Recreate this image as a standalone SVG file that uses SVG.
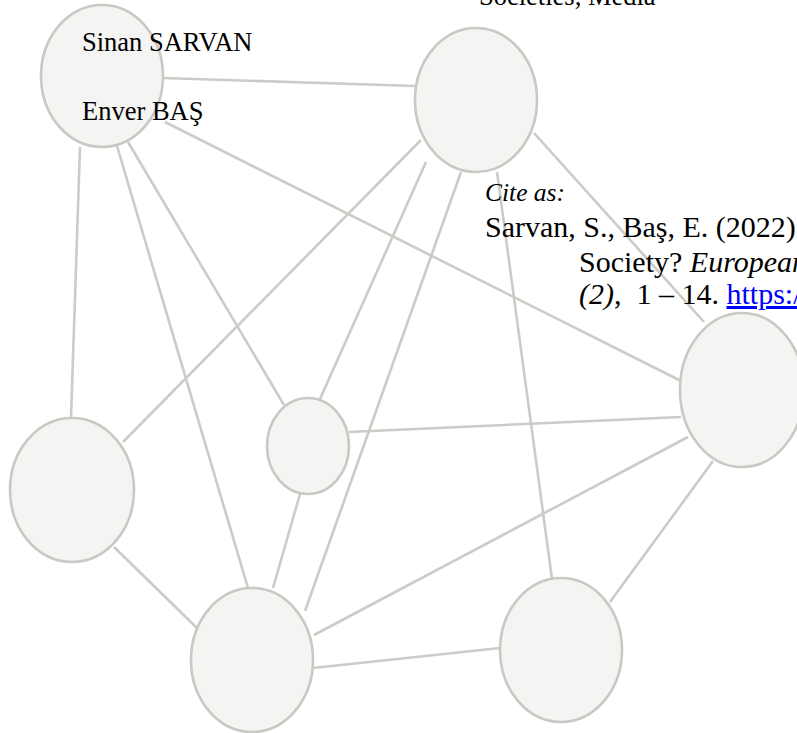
<svg xmlns="http://www.w3.org/2000/svg" width="797" height="733" viewBox="0 0 797 733">
<style>
.edge{stroke:#cdcbc6;stroke-width:2.6;fill:none;stroke-linecap:butt}
.node{fill:#f4f4f2;stroke:#c9c8c3;stroke-width:2.6}
.t{font-family:"Liberation Serif","Times New Roman",serif;fill:#000}
.it{font-style:italic}
.lnk{fill:#0000ff;text-decoration:underline}
</style>
<rect width="797" height="733" fill="#ffffff"/>
<g id="connectors">
<line class="edge" x1="163" y1="78" x2="416" y2="86"/>
<line class="edge" x1="165" y1="122" x2="681" y2="381"/>
<line class="edge" x1="80" y1="147" x2="71" y2="418"/>
<line class="edge" x1="117" y1="146" x2="248" y2="588"/>
<line class="edge" x1="128" y1="142" x2="284" y2="405"/>
<line class="edge" x1="421" y1="140" x2="123" y2="442"/>
<line class="edge" x1="426" y1="162" x2="320" y2="399"/>
<line class="edge" x1="461" y1="172" x2="305" y2="611"/>
<line class="edge" x1="497" y1="172" x2="552" y2="579"/>
<line class="edge" x1="534" y1="133" x2="704" y2="322"/>
<line class="edge" x1="349" y1="432" x2="681" y2="417"/>
<line class="edge" x1="114" y1="547" x2="198" y2="629"/>
<line class="edge" x1="300" y1="494" x2="273" y2="588"/>
<line class="edge" x1="314" y1="635" x2="688" y2="437"/>
<line class="edge" x1="313" y1="668" x2="500" y2="648"/>
<line class="edge" x1="610" y1="602" x2="713" y2="461"/>
</g>
<g id="node-a">
<ellipse class="node" cx="102" cy="76" rx="61" ry="71"/>
<text class="t" x="82" y="51" font-size="26.5">Sinan SARVAN</text>
<text class="t" x="82" y="120" font-size="26.5">Enver BAŞ</text>
</g>
<g id="node-b"><ellipse class="node" cx="476" cy="100" rx="61" ry="72"/></g>
<g id="node-c"><ellipse class="node" cx="742" cy="390" rx="62" ry="77"/></g>
<g id="node-d"><ellipse class="node" cx="72" cy="490" rx="62" ry="72"/></g>
<g id="node-e"><ellipse class="node" cx="308" cy="446" rx="41" ry="48"/></g>
<g id="node-f"><ellipse class="node" cx="252" cy="660" rx="61" ry="72"/></g>
<g id="node-g"><ellipse class="node" cx="561" cy="650" rx="61" ry="72"/></g>
<g id="texts">
<text class="t" x="479" y="4.5" font-size="26.5">Societies, Media</text>
<text class="t it" x="485" y="201" font-size="25.5">Cite as:</text>
<text class="t" x="485" y="237" font-size="30">Sarvan, S., Baş, E. (2022)</text>
<text class="t" x="579" y="272" font-size="30">Society? <tspan class="it">European</tspan></text>
<text class="t" x="579" y="304" font-size="30" xml:space="preserve"><tspan class="it">(2)</tspan>,  1 – 14. <tspan class="lnk">https:/</tspan></text>
</g>
</svg>
